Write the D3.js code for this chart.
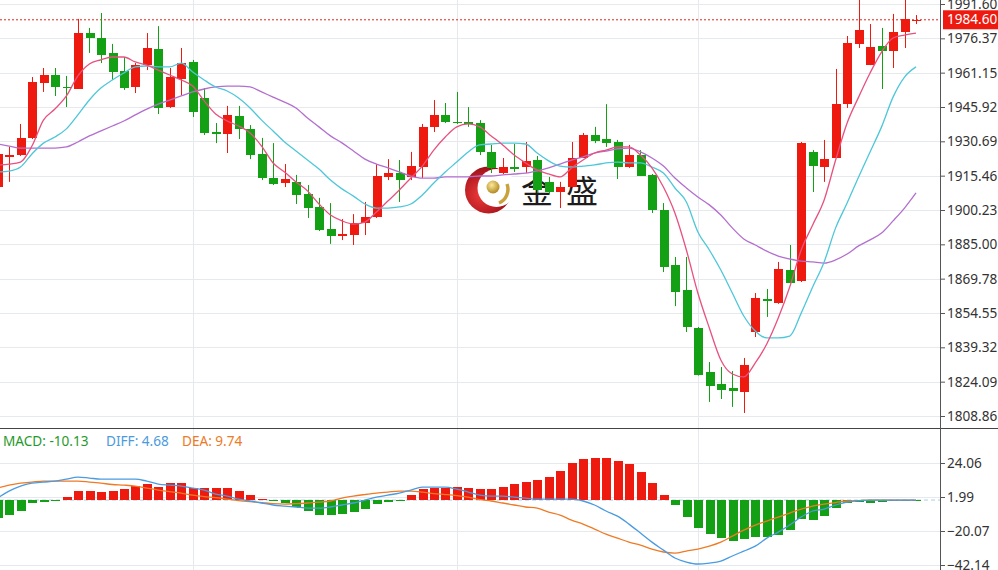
<!DOCTYPE html>
<html><head><meta charset="utf-8">
<script src="https://cdn.jsdelivr.net/npm/d3@7"></script>
<style>html,body{margin:0;padding:0;background:#fff;overflow:hidden}svg{display:block}</style>
</head><body>
<svg id="c" width="998" height="570"></svg>
<script>
// ---------- DATA ----------
// candle index -1 (partially visible) .. 79
const firstIndex = -1;
const open  = [1910.4,1924.2,1924.6,1932.2,1956.6,1960.1,1954.8,1953.9,1978.7,1976.5,1969.9,1961.9,1954.8,1964.5,1971.6,1945.9,1958.3,1965.9,1949.9,1934.8,1933.9,1941.9,1936.2,1925.1,1914.4,1912.2,1912.7,1907.3,1901.6,1891.8,1888.7,1889.1,1894.5,1897.1,1914.9,1916.6,1914.9,1919.3,1937.1,1942.4,1939.3,1939.3,1938.8,1926.0,1916.6,1919.3,1919.3,1922.4,1912.7,1908.2,1910.4,1923.3,1933.5,1931.7,1930.4,1919.3,1924.6,1915.8,1900.2,1875.8,1864.8,1847.9,1828.4,1823.1,1821.3,1819.5,1846.1,1860.8,1859.0,1873.6,1868.7,1926.0,1919.3,1923.3,1947.2,1973.9,1964.5,1973.0,1970.8,1979.2,1984.6];
const high  = [1926.8,1928.2,1938.4,1959.2,1963.2,1963.2,1959.7,1985.0,1981.0,1987.6,1973.9,1968.1,1965.4,1978.7,1981.8,1963.2,1972.1,1966.8,1954.3,1938.8,1946.4,1946.4,1937.9,1932.2,1929.9,1920.6,1915.8,1911.3,1905.6,1903.3,1896.2,1898.4,1903.8,1920.6,1922.8,1922.4,1926.0,1938.4,1949.0,1947.7,1952.6,1945.9,1940.1,1929.1,1923.3,1929.5,1930.4,1924.2,1914.9,1912.7,1930.4,1934.4,1937.1,1947.2,1931.3,1929.1,1926.8,1916.2,1903.3,1879.4,1879.4,1848.3,1832.8,1830.6,1828.8,1834.6,1863.4,1865.2,1877.2,1884.7,1930.4,1926.8,1931.3,1962.8,1977.4,1993.8,1982.7,1981.0,1987.2,1993.8,1986.7];
const low   = [1909.1,1912.7,1924.2,1931.7,1952.6,1950.8,1945.9,1953.9,1969.9,1965.4,1957.9,1953.5,1952.1,1962.3,1942.8,1945.5,1951.2,1941.5,1933.5,1929.9,1925.5,1931.7,1922.8,1913.5,1911.3,1910.4,1902.9,1896.7,1890.9,1885.2,1886.9,1884.7,1889.1,1896.7,1913.5,1903.8,1913.5,1914.4,1934.8,1938.8,1938.4,1937.1,1924.6,1916.6,1916.2,1917.1,1916.6,1907.8,1907.3,1901.1,1910.0,1923.3,1929.9,1928.2,1914.0,1918.9,1915.3,1898.9,1872.7,1857.6,1846.1,1826.8,1815.1,1816.4,1812.9,1810.2,1843.9,1852.8,1858.6,1867.8,1868.3,1908.2,1912.7,1923.3,1945.5,1972.1,1964.5,1953.9,1963.2,1972.1,1982.7];
const close = [1925.1,1924.6,1932.2,1957.0,1960.1,1954.8,1954.3,1978.7,1976.5,1969.0,1961.4,1954.3,1964.5,1972.1,1945.5,1959.2,1965.4,1943.7,1934.4,1933.9,1942.4,1936.2,1924.6,1914.4,1911.8,1914.0,1906.9,1901.1,1891.4,1888.7,1889.6,1894.5,1897.1,1915.3,1916.6,1913.5,1919.7,1937.1,1942.4,1939.3,1939.0,1938.4,1926.0,1918.9,1919.3,1918.4,1921.9,1909.1,1908.2,1910.4,1923.3,1933.5,1930.8,1929.9,1919.3,1924.6,1915.3,1900.2,1874.9,1863.9,1848.3,1827.1,1822.2,1820.4,1820.0,1831.5,1861.2,1859.9,1874.1,1867.8,1929.9,1919.7,1922.8,1947.2,1974.3,1980.1,1972.5,1970.8,1979.2,1985.0,1984.6];

const ma5  = [1920.2,1920.6,1921.5,1928.6,1940.1,1945.0,1950.8,1959.7,1965.0,1966.8,1968.1,1968.1,1965.9,1964.5,1962.3,1960.1,1957.9,1955.2,1948.6,1942.8,1939.7,1937.5,1934.4,1928.6,1921.1,1917.1,1912.7,1908.7,1902.9,1898.0,1895.4,1894.0,1894.9,1899.3,1904.2,1909.1,1914.4,1919.7,1926.8,1932.6,1937.1,1938.4,1937.1,1933.1,1929.1,1924.6,1921.1,1918.0,1916.2,1914.9,1918.9,1922.4,1925.5,1926.8,1928.2,1928.2,1924.6,1918.9,1910.4,1898.9,1882.5,1863.4,1847.9,1833.7,1827.5,1826.2,1832.4,1840.8,1852.3,1866.1,1882.5,1893.6,1904.7,1922.4,1938.8,1950.3,1961.0,1970.3,1976.5,1977.8,1978.7];
const ma10 = [1917.1,1917.5,1919.3,1925.1,1929.9,1932.6,1936.2,1942.4,1949.0,1954.3,1957.9,1961.0,1963.7,1964.1,1963.7,1963.7,1965.4,1961.4,1957.9,1954.8,1953.0,1949.9,1945.5,1940.1,1935.3,1930.4,1926.4,1922.4,1918.4,1913.5,1909.6,1906.4,1902.9,1901.1,1901.1,1901.6,1902.9,1906.9,1912.2,1917.1,1921.5,1926.0,1929.1,1929.5,1929.9,1929.9,1929.5,1925.5,1922.0,1919.7,1919.3,1919.7,1920.2,1921.1,1921.5,1921.1,1921.1,1919.3,1916.6,1910.0,1903.8,1890.5,1882.5,1873.6,1863.4,1853.2,1846.6,1843.5,1843.5,1844.3,1854.5,1866.1,1877.2,1892.3,1903.3,1914.9,1926.0,1937.1,1950.3,1959.2,1963.7];
const ma20 = [1929.5,1928.6,1927.7,1927.7,1927.7,1927.7,1928.2,1930.4,1933.1,1935.3,1937.5,1939.7,1942.4,1945.0,1947.2,1949.0,1950.8,1952.6,1953.9,1954.8,1955.2,1955.2,1954.8,1952.6,1950.3,1948.1,1945.5,1941.0,1937.1,1933.1,1930.0,1926.4,1922.8,1920.6,1918.9,1917.1,1915.3,1914.4,1914.4,1914.9,1914.9,1914.9,1915.3,1915.3,1915.8,1916.2,1916.6,1917.6,1918.9,1920.6,1922.4,1923.8,1925.5,1926.4,1927.3,1927.7,1926.0,1923.3,1919.7,1914.4,1910.0,1906.0,1902.5,1898.0,1892.3,1887.4,1884.7,1882.0,1879.8,1878.5,1877.6,1877.2,1876.7,1878.1,1880.7,1884.3,1887.0,1890.0,1895.4,1901.1,1907.8];

const macdHist = [-11.7,-9.7,-7.1,-1.9,-1.3,-0.6,1.9,5.8,5.8,5.2,5.8,7.1,9.1,10.4,8.4,11.0,11.0,7.8,7.8,7.8,7.8,5.8,3.2,0.6,-0.3,-1.9,-4.5,-7.1,-9.7,-9.7,-9.1,-7.8,-5.8,-2.6,-1.3,-0.3,3.2,7.1,7.8,7.8,8.4,7.8,7.1,7.1,8.4,10.4,11.7,13.0,14.9,18.8,24.0,26.6,27.3,27.3,25.3,23.4,18.2,11.0,3.2,-3.2,-11.0,-18.2,-22.1,-24.7,-26.6,-25.3,-24.0,-24.0,-22.7,-19.5,-12.3,-13.0,-10.4,-5.2,-1.9,-1.3,-1.9,-1.3,-0.6,-0.3,-0.2];
const diff = [1.3,5.8,9.1,11.0,11.7,12.3,13.6,14.9,14.3,13.6,13.6,13.6,13.6,12.3,10.4,9.7,9.1,7.8,6.5,3.9,2.6,0.6,-0.6,-1.9,-3.2,-3.9,-4.5,-5.2,-5.2,-4.5,-3.2,-1.9,0.0,1.9,3.2,4.5,6.5,8.4,8.4,8.4,7.1,5.2,3.2,2.6,2.6,1.9,1.3,0.6,0.6,0.6,0.6,-0.6,-3.2,-7.1,-10.4,-15.6,-21.4,-27.3,-32.5,-37.6,-40.2,-41.5,-40.9,-39.6,-36.3,-33.1,-29.9,-24.7,-20.8,-16.2,-11.0,-7.1,-5.8,-3.2,-1.3,-0.3,0,0,0,0,0];
const dea  = [7.8,9.7,11.0,11.7,12.3,12.3,12.3,12.3,11.7,11.0,10.1,9.7,9.1,7.8,6.5,5.5,4.5,3.2,2.3,1.6,0.6,-0.3,-1.0,-1.6,-2.3,-2.6,-2.3,-1.9,-1.3,-0.6,1.3,2.6,3.6,4.5,5.2,5.8,5.8,5.2,4.2,3.6,2.9,1.9,0.3,-0.6,-1.9,-3.2,-4.5,-5.2,-7.8,-9.7,-13.0,-15.6,-18.8,-22.1,-24.7,-27.3,-29.2,-31.8,-33.7,-34.4,-33.1,-31.8,-29.9,-27.3,-23.4,-19.5,-16.2,-13.6,-11.0,-8.4,-5.8,-3.9,-2.6,-1.6,-0.6,-0.3,0,0,0,0,0];

const priceTicks = [1991.60,1976.37,1961.15,1945.92,1930.69,1915.46,1900.23,1885.00,1869.78,1854.55,1839.32,1824.09,1808.86];
const macdTicks = [24.06,1.99,-20.07,-42.14];
const gridCandles = [16,39,60];
const lastPrice = 1984.60;
const legend = [{t:"MACD: -10.13",c:"#1f9a2a"},{t:"DIFF: 4.68",c:"#4a9be0"},{t:"DEA: 9.74",c:"#ef7a25"}];
const logoText = ["金","盛"];

// ---------- LAYOUT ----------
const RED="#ee1a10", GREEN="#14a014";
const plotR = 940, mainB = 428;
const svg = d3.select("#c");
const x = d3.scaleLinear().domain([0,79]).range([9,916]);
const y = d3.scaleLinear().domain([1808.86,1991.60]).range([416,4]);
const ym = d3.scaleLinear().domain([-42.14,24.06]).range([565,463]);
const bw = 9.6;
const N = open.length;
const data = d3.range(N).map(k=>({i:k+firstIndex,o:open[k],h:high[k],l:low[k],c:close[k],m5:ma5[k],m10:ma10[k],m20:ma20[k],hist:macdHist[k],dif:diff[k],dea:dea[k]}));

const defs = svg.append("defs");
defs.append("clipPath").attr("id","cm").append("rect").attr("x",0).attr("y",0).attr("width",plotR).attr("height",mainB);
defs.append("clipPath").attr("id","cb").append("rect").attr("x",0).attr("y",mainB+1).attr("width",plotR).attr("height",570-mainB);
const rg = defs.append("radialGradient").attr("id","lr").attr("cx","35%").attr("cy","60%").attr("r","70%");
rg.append("stop").attr("offset","0%").attr("stop-color","#f03a3a");
rg.append("stop").attr("offset","100%").attr("stop-color","#8f0a12");
const gg = defs.append("radialGradient").attr("id","lg").attr("cx","40%").attr("cy","35%").attr("r","65%");
gg.append("stop").attr("offset","0%").attr("stop-color","#fbe89a");
gg.append("stop").attr("offset","100%").attr("stop-color","#b38a22");

// grid
const grid = svg.append("g").attr("stroke","#e6e9ee").attr("stroke-width",1).attr("shape-rendering","crispEdges");
grid.selectAll(".hp").data(priceTicks).join("line").attr("x1",0).attr("x2",plotR).attr("y1",d=>Math.round(y(d))+0.5).attr("y2",d=>Math.round(y(d))+0.5);
grid.selectAll(".hm").data(macdTicks).join("line").attr("x1",0).attr("x2",plotR).attr("y1",d=>Math.round(ym(d))+0.5).attr("y2",d=>Math.round(ym(d))+0.5);
grid.selectAll(".v").data(gridCandles).join("line").attr("y1",0).attr("y2",570).attr("x1",d=>Math.round(x(d))+0.5).attr("x2",d=>Math.round(x(d))+0.5);

// logo (behind candles)
const logo = svg.append("g");
logo.append("circle").attr("cx",488.5).attr("cy",190).attr("r",23.5).attr("fill","url(#lr)");
logo.append("circle").attr("cx",496.5).attr("cy",188).attr("r",19).attr("fill","#fff");
logo.append("path").attr("d","M507,184 A15 15 0 0 1 499,203").attr("fill","none").attr("stroke","#c9a23c").attr("stroke-width",3.5);
logo.append("circle").attr("cx",493).attr("cy",187).attr("r",6.5).attr("fill","url(#lg)");
logo.selectAll("text").data(logoText).join("text").attr("x",(d,k)=>521+k*45).attr("y",203)
  .attr("font-family","'Noto Sans CJK SC'").attr("font-size",32).attr("fill","#1c1c1c").text(d=>d);

// current price dotted line
svg.append("line").attr("x1",0).attr("x2",plotR).attr("y1",y(lastPrice)).attr("y2",y(lastPrice))
  .attr("stroke","#e8231c").attr("stroke-width",1).attr("stroke-dasharray","2,2");

// candles
const cg = svg.append("g").attr("clip-path","url(#cm)");
const col = d=> d.c>=d.o?RED:GREEN;
cg.selectAll(".w").data(data).join("line").attr("x1",d=>Math.round(x(d.i))+0.5).attr("x2",d=>Math.round(x(d.i))+0.5)
  .attr("y1",d=>y(d.h)).attr("y2",d=>y(d.l)).attr("stroke",col).attr("stroke-width",1);
cg.selectAll(".b").data(data).join("rect").attr("x",d=>Math.round(x(d.i)-bw/2)+0.5).attr("width",bw)
  .attr("y",d=>y(Math.max(d.o,d.c))).attr("height",d=>Math.max(1.5,Math.abs(y(d.o)-y(d.c))))
  .attr("fill",col).attr("shape-rendering","crispEdges");

// moving averages
const maDefs=[{k:"m20",c:"#b36fcf"},{k:"m10",c:"#4ec7d9"},{k:"m5",c:"#e8517f"}];
maDefs.forEach(m=>{
  cg.append("path").datum(data).attr("fill","none").attr("stroke",m.c).attr("stroke-width",1.3)
    .attr("d",d3.line().x(d=>x(d.i)).y(d=>y(d[m.k])).curve(d3.curveMonotoneX));
});

// MACD panel
const mg = svg.append("g").attr("clip-path","url(#cb)");
mg.append("line").attr("x1",0).attr("x2",plotR).attr("y1",ym(0)).attr("y2",ym(0)).attr("stroke","#a9cfe8").attr("stroke-dasharray","4,3");
mg.selectAll(".h").data(data).join("rect").attr("x",d=>Math.round(x(d.i)-bw/2)+0.5).attr("width",bw)
  .attr("y",d=>Math.min(ym(0),ym(d.hist))).attr("height",d=>Math.max(1,Math.abs(ym(d.hist)-ym(0))))
  .attr("fill",d=>d.hist>=0?RED:GREEN).attr("shape-rendering","crispEdges");
mg.append("path").datum(data).attr("fill","none").attr("stroke","#ef7a25").attr("stroke-width",1.3)
  .attr("d",d3.line().x(d=>x(d.i)).y(d=>ym(d.dea)).curve(d3.curveMonotoneX));
mg.append("path").datum(data).attr("fill","none").attr("stroke","#4a9be0").attr("stroke-width",1.3)
  .attr("d",d3.line().x(d=>x(d.i)).y(d=>ym(d.dif)).curve(d3.curveMonotoneX));

// legend
const lgG = svg.append("g").attr("font-family","'Noto Sans', sans-serif").attr("font-size",13.6);
const offs=[3,106,182];
legend.forEach((l,k)=>{ lgG.append("text").attr("x",offs[k]).attr("y",446).attr("fill",l.c).text(l.t); });

// separator and axis line
svg.append("line").attr("x1",0).attr("x2",998).attr("y1",mainB+0.5).attr("y2",mainB+0.5).attr("stroke","#444").attr("stroke-width",1);
svg.append("line").attr("x1",plotR+0.5).attr("x2",plotR+0.5).attr("y1",0).attr("y2",570).attr("stroke","#555").attr("stroke-width",1);

// axes
const ax1 = svg.append("g").attr("transform",`translate(${plotR+1},0)`)
  .call(d3.axisRight(y).tickValues(priceTicks).tickFormat(d3.format(".2f")).tickSize(4).tickPadding(2));
const ax2 = svg.append("g").attr("transform",`translate(${plotR+1},0)`)
  .call(d3.axisRight(ym).tickValues(macdTicks).tickFormat(d3.format(".2f")).tickSize(4).tickPadding(2));
[ax1,ax2].forEach(a=>{
  a.select(".domain").remove();
  a.selectAll("line").attr("stroke","#555");
  a.selectAll("text").attr("font-family","'Noto Sans', sans-serif").attr("font-size",13.6).attr("fill","#333");
});

// last price label
svg.append("rect").attr("x",943).attr("y",y(lastPrice)-9.5).attr("width",56).attr("height",19).attr("fill","#ee1a10");
svg.append("text").attr("x",947).attr("y",y(lastPrice)).attr("dy","0.34em").attr("fill","#fff")
  .attr("font-family","'Noto Sans', sans-serif").attr("font-size",13.6).text(d3.format(".2f")(lastPrice));
</script>
</body></html>
